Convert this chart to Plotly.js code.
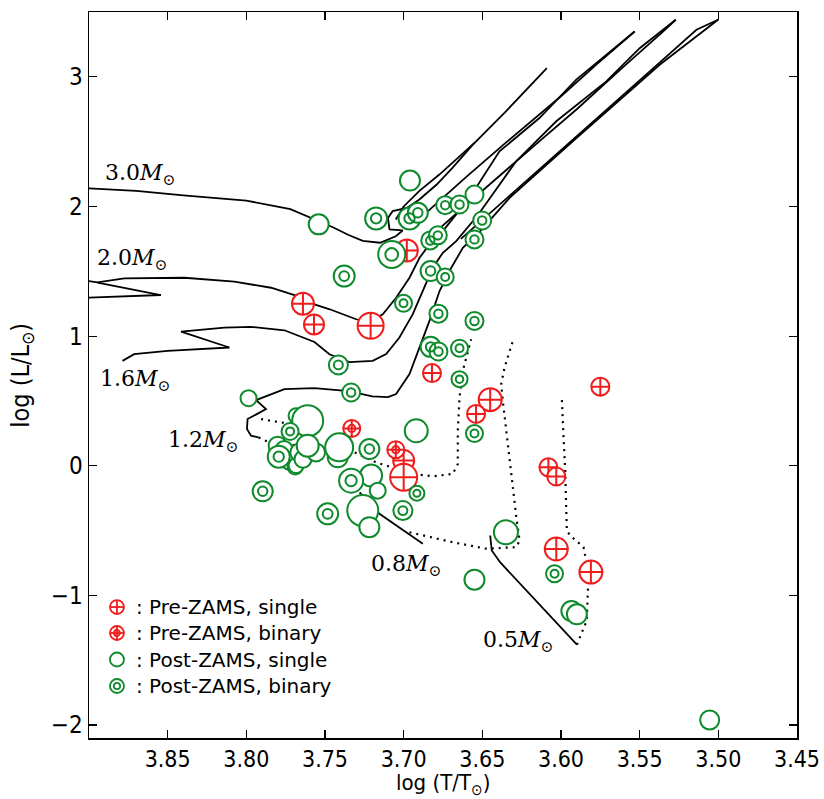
<!DOCTYPE html>
<html>
<head>
<meta charset="utf-8">
<script src="https://cdn.plot.ly/plotly-3.0.1.min.js"></script>
<style>html,body{margin:0;padding:0;background:#fff;}</style>
</head>
<body>
<div id="chart" style="width:824px;height:799px;"></div>
<script>
// ---------------- Data ----------------
// Evolutionary tracks (log T, log L); null separates segments
const track30_x = [3.900,3.870,3.840,3.800,3.772,3.757,3.745,3.735,3.726,3.715,3.705,3.7006,3.709,3.710,3.707,3.698,3.690,3.679,3.669,3.656,3.635,3.609, null, 3.655,3.6773,3.690,3.700,3.705];
const track30_y = [2.140,2.120,2.085,2.045,1.980,1.900,1.840,1.780,1.735,1.720,1.770,1.815,1.823,1.912,1.964,1.989,2.054,2.169,2.297,2.477,2.734,3.067, null, 2.490,2.246,2.120,2.000,1.900];

const track20_x = [3.9009,3.8543,3.8946, null, 3.9009,3.8946,3.8776,3.8394,3.8076,3.7843,3.7674,3.7567,3.747,3.7302,3.7218,3.7133,3.7048,3.6963,3.6899,3.6836,3.6751,3.6580,3.6391,3.6137,3.5903,3.5712,3.5532, null, 3.5532,3.560,3.577,3.600,3.6343,3.660,3.681,3.695];
const track20_y = [1.296,1.317,1.412, null, 1.425,1.415,1.446,1.450,1.420,1.373,1.309,1.245,1.207,1.130,1.104,1.169,1.296,1.450,1.604,1.707,1.810,2.070,2.425,2.682,2.978,3.170,3.350, null, 3.350,3.280,3.100,2.850,2.500,2.230,2.000,1.850];

const track16_x = [3.8787,3.8713,3.8501,3.8108,3.8415,3.8140,3.7970,3.7758,3.7567,3.7472,3.7345,3.7197,3.7111,3.7027,3.6942,3.6878,3.6815,3.6751,3.6666,3.6530,3.6285,3.6030,3.5712,3.5500,3.5271, null, 3.5271,3.535,3.560,3.590,3.614,3.640,3.6615,3.680];
const track16_y = [0.809,0.861,0.886,0.912,1.035,1.066,1.071,1.045,0.955,0.860,0.800,0.809,0.861,0.989,1.169,1.348,1.527,1.643,1.733,1.930,2.349,2.657,2.965,3.221,3.440, null, 3.440,3.350,3.080,2.750,2.500,2.230,2.000,1.800];

const track12_x = [3.7922,3.7970,3.7996,3.7992,3.7875,3.7938,3.7758,3.7567,3.735,3.720,3.710,3.7048,3.6963,3.6899,3.6836,3.6772,3.6709,3.6624,3.652,3.6327,3.5900,3.5373,3.5002, null, 3.5002,3.5139,3.540,3.568,3.594,3.620,3.6404,3.6636];
const track12_y = [0.218,0.232,0.283,0.360,0.437,0.506,0.591,0.599,0.575,0.535,0.530,0.553,0.707,0.911,1.117,1.348,1.502,1.681,1.800,2.066,2.530,3.093,3.440, null, 3.440,3.363,3.080,2.780,2.500,2.220,2.000,1.750];

const dotted12_x = [3.7922,3.7853,3.770,3.7334,3.7175,3.6942,3.6815,3.6688,3.6656,3.6656,3.6645,3.6624,3.6602,3.6571, null, 3.7906,3.778,3.768];
const dotted12_y = [0.218,0.180,0.160,0.116,0.026,-0.063,-0.081,-0.063,0.014,0.270,0.527,0.732,0.834,0.976, null, 0.360,0.334,0.320];

const track08_x = [3.728,3.7154,3.6984,3.6878];
const track08_y = [-0.205,-0.371,-0.513,-0.602];
const dotted08_x = [3.6963,3.6688,3.6475,3.6284,3.6263,3.6284,3.6306,3.6327,3.6370,3.6380,3.6359,3.6306];
const dotted08_y = [-0.513,-0.590,-0.640,-0.628,-0.577,-0.397,-0.166,0.039,0.501,0.630,0.757,0.963];

const track05_x = [3.6450,3.6440,3.6386,3.5899];
const track05_y = [-0.538,-0.654,-0.746,-1.380];
const dotted05_x = [3.5899,3.5836,3.5829,3.5836,3.5857,3.5942,3.5963,3.5974,3.5985,3.5995];
const dotted05_y = [-1.380,-1.193,-0.962,-0.757,-0.628,-0.538,-0.499,-0.012,0.245,0.527];

// Stars
const preSingle_x = [3.764,3.757,3.721,3.698,3.682,3.645,3.654,3.575,3.608,3.603,3.603,3.581,3.700,3.700];
const preSingle_y = [1.250,1.090,1.080,1.660,0.715,0.510,0.400,0.610,-0.012,-0.083,-0.642,-0.820,0.040,-0.088];
const preSingle_s = [22,20,26,22,18,23,18,18,18,18,23,23,21,27];

const preBinary_x = [3.733,3.705];
const preBinary_y = [0.288,0.124];
const preBinary_s = [17,17];

const postSingle_x = [3.696,3.754,3.655,3.7986,3.7684,3.761,3.692,3.7801,3.7760,3.7726,3.7690,3.7684,3.7663,3.7640,3.7557,3.7419,3.761,3.741,3.7207,3.7165,3.726,3.7218,3.635,3.655,3.5934,3.5899,3.5055];
const postSingle_y = [2.200,1.862,2.092,0.521,0.386,0.347,0.270,0.155,0.125,0.039,-0.010,0.001,0.103,0.050,0.103,0.065,0.155,0.142,-0.076,-0.192,-0.346,-0.474,-0.513,-0.879,-1.121,-1.146,-1.961];
const postSingle_s = [20,20,18,16,15,31,23,18,17,18,15,15,18,17,18,20,22,28,22,16,31,20,24,20,20,20,19];

const postBinary_x = [3.7175,3.6963,3.691,3.6736,3.6645,3.6501,3.6831,3.6783,3.655,3.7076,3.7378,3.6829,3.6736,3.7001,3.6779,3.655,3.6829,3.6779,3.6645,3.6645,3.7415,3.7334,3.655,3.7218,3.7722,3.7794,3.7334,3.6916,3.7896,3.7483,3.7005,3.6041];
const postBinary_y = [1.908,1.908,1.951,2.010,2.015,1.892,1.738,1.777,1.746,1.630,1.463,1.502,1.456,1.253,1.173,1.117,0.917,0.881,0.907,0.668,0.778,0.565,0.249,0.129,0.265,0.070,-0.115,-0.212,-0.197,-0.371,-0.346,-0.833];
const postBinary_s = [22,22,20,18,18,18,18,18,18,27,21,20,17,17,18,18,20,18,17,16,19,18,17,20,17,22,24,15,20,21,19,17];

const massLabels = ['3.0','2.0','1.6','1.2','0.8','0.5'];
const massLabel_x = [3.891,3.896,3.894,3.851,3.722,3.651];
const massLabel_y = [2.250,1.590,0.660,0.190,-0.773,-1.353];

const legendLabels = [': Pre-ZAMS, single', ': Pre-ZAMS, binary', ': Post-ZAMS, single', ': Post-ZAMS, binary'];
const xTitle = 'log (T/T<sub>⊙</sub>)';
const yTitle = 'log (L/L<sub>⊙</sub>)';
const xTicks = [3.85,3.80,3.75,3.70,3.65,3.60,3.55,3.50,3.45];
const yTicks = [-2,-1,0,1,2,3];

// ---------------- Styles ----------------
const RED = '#f01c1c';
const GREEN = '#0e8a2c';
const LW = 2.0;
const TICKFONT = 'DejaVu Sans Condensed, DejaVu Sans, sans-serif';

function solid(x, y) {
  return {x, y, type:'scatter', mode:'lines', hoverinfo:'skip', showlegend:false, connectgaps:false,
          line:{color:'#000', width:1.8}};
}
function dotted(x, y) {
  return {x, y, type:'scatter', mode:'lines', hoverinfo:'skip', showlegend:false, connectgaps:false,
          line:{color:'#000', width:2.2, dash:'2px,5px'}};
}
function filled(x, y, s, symbol, color) {
  return {x, y, type:'scatter', mode:'markers', showlegend:false, hoverinfo:'x+y',
          marker:{symbol, size:s, color:'white', opacity:1, line:{color, width:LW}}};
}
function ring(x, y, s, color) {
  // open symbols take their stroke colour from marker.color
  return {x, y, type:'scatter', mode:'markers', showlegend:false, hoverinfo:'skip',
          marker:{symbol:'circle-open', size:s, color, opacity:1, line:{width:LW}}};
}

const traces = [
  solid(track30_x, track30_y), solid(track20_x, track20_y), solid(track16_x, track16_y),
  solid(track12_x, track12_y), solid(track08_x, track08_y), solid(track05_x, track05_y),
  dotted(dotted12_x, dotted12_y), dotted(dotted08_x, dotted08_y), dotted(dotted05_x, dotted05_y),
  filled(preSingle_x, preSingle_y, preSingle_s, 'circle-cross', RED),
  filled(preBinary_x, preBinary_y, preBinary_s, 'circle-cross', RED),
  ring(preBinary_x, preBinary_y, preBinary_s.map(v => v*0.42), RED),
  filled(postSingle_x, postSingle_y, postSingle_s, 'circle', GREEN),
  filled(postBinary_x, postBinary_y, postBinary_s, 'circle', GREEN),
  ring(postBinary_x, postBinary_y, postBinary_s.map(v => v*0.47), GREEN)
];

// mass labels
const annotations = massLabels.map((m, i) => ({
  x: massLabel_x[i], y: massLabel_y[i], xref:'x', yref:'y', xanchor:'left', yanchor:'middle',
  showarrow:false, text: m + '<i>M</i><sub>⊙</sub>',
  font:{family:'DejaVu Serif', size:22, color:'#000'}
}));

// axis titles (as annotations for exact placement)
annotations.push({x:0.5, y:-0.0635, xref:'paper', yref:'paper', xanchor:'center', yanchor:'middle',
  showarrow:false, text:xTitle, font:{family:TICKFONT, size:22, color:'#000'}});
annotations.push({x:-0.095, y:0.5, xref:'paper', yref:'paper', xanchor:'center', yanchor:'middle',
  showarrow:false, textangle:-90, text:yTitle, font:{family:TICKFONT, size:25, color:'#000'}});

// custom legend (paper coordinates)
const legX = 0.0395, legTextX = 0.064;
const legY = [0.1804, 0.1446, 0.1081, 0.0716];
const shapes = [];
function circ(cx, cy, r, color) {
  shapes.push({type:'circle', xref:'paper', yref:'paper', xsizemode:'pixel', ysizemode:'pixel',
    xanchor:cx, yanchor:cy, x0:-r, x1:r, y0:-r, y1:r, line:{color, width:1.8}, fillcolor:'rgba(0,0,0,0)'});
}
function seg(cx, cy, x0, y0, x1, y1, color) {
  shapes.push({type:'line', xref:'paper', yref:'paper', xsizemode:'pixel', ysizemode:'pixel',
    xanchor:cx, yanchor:cy, x0, x1, y0, y1, line:{color, width:1.8}});
}
const R = 7;
circ(legX, legY[0], R, RED); seg(legX, legY[0], -R, 0, R, 0, RED); seg(legX, legY[0], 0, -R, 0, R, RED);
circ(legX, legY[1], R, RED); circ(legX, legY[1], 3, RED); seg(legX, legY[1], -R, 0, R, 0, RED); seg(legX, legY[1], 0, -R, 0, R, RED);
circ(legX, legY[2], R, GREEN);
circ(legX, legY[3], R, GREEN); circ(legX, legY[3], 3.2, GREEN);

legendLabels.forEach((t, i) => annotations.push({
  x: legTextX, y: legY[i], xref:'paper', yref:'paper', xanchor:'left', yanchor:'middle',
  showarrow:false, text:t, font:{family:'DejaVu Sans', size:20, color:'#000'}
}));

const axisCommon = {
  showline:true, linecolor:'#000', linewidth:1.5, mirror:'ticks',
  ticks:'inside', ticklen:8, tickwidth:1.2, tickcolor:'#000',
  showgrid:false, zeroline:false,
  tickfont:{family:TICKFONT, size:23, color:'#000'}
};

const layout = {
  width:824, height:799,
  margin:{l:89, r:27, t:12, b:61},
  paper_bgcolor:'#fff', plot_bgcolor:'#fff',
  showlegend:false,
  xaxis: Object.assign({}, axisCommon, {
    range:[3.90, 3.45], tickvals:xTicks, tickformat:'.2f', ticklabelstandoff:0
  }),
  yaxis: Object.assign({}, axisCommon, {
    range:[-2.1, 3.5], tickvals:yTicks, tickformat:'d', ticklabelstandoff:0,
    tickfont:{family:TICKFONT, size:24, color:'#000'}
  }),
  annotations, shapes
};

Plotly.newPlot('chart', traces, layout, {staticPlot:true, displayModeBar:false});
</script>
</body>
</html>
